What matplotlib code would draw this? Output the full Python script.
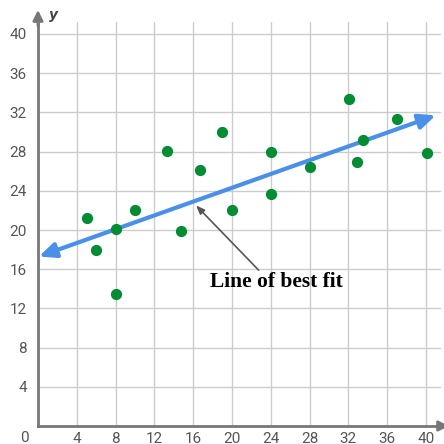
import matplotlib.pyplot as plt

# scatter data
xs = [5, 6, 8, 8, 10, 13.3, 14.7, 16.7, 19, 20, 24, 24, 28, 32.1, 32.9, 33.5, 37, 40.1]
ys = [21.2, 18, 20.1, 13.5, 22, 28.1, 19.9, 26.1, 30, 22, 28, 23.7, 26.4, 33.4, 26.9, 29.2, 31.3, 27.9]

# line of best fit end points
fit_x = [0.1, 41]
fit_y = [17.3, 31.7]

ticks = [4, 8, 12, 16, 20, 24, 28, 32, 36, 40]

W = 444
fig = plt.figure(figsize=(4.44, 4.44), dpi=100)
ax = fig.add_axes([38 / W, 18 / W, 403 / W, 404 / W])
ax.set_xlim(0, 403 / 9.7)
ax.set_ylim(0, 404 / 9.8)

for t in ticks:
    ax.axvline(t, color="#cccccc", lw=1, zorder=0)
    ax.axhline(t, color="#cccccc", lw=1, zorder=0)
ax.set_xticks(ticks)
ax.set_yticks(ticks)
ax.tick_params(length=0, colors="#555555", labelsize=11)
ax.tick_params(axis="x", pad=4)
ax.tick_params(axis="y", pad=8)
for lab in ax.get_xticklabels() + ax.get_yticklabels():
    lab.set_family("Roboto")
ax.text(-1.35, -1.25, "0", ha="center", va="center", color="#555555", fontsize=11, family="Roboto")

for side in ["top", "right"]:
    ax.spines[side].set_visible(False)
for side in ["left", "bottom"]:
    ax.spines[side].set_color("#777777")
    ax.spines[side].set_linewidth(2)

# axis arrows
ax.annotate("", xy=(0, 1 + 12 / 404), xytext=(0, 0.99), xycoords="axes fraction",
            arrowprops=dict(arrowstyle="-|>,head_width=0.3,head_length=0.6", color="#777777", lw=2,
                            shrinkA=0, shrinkB=0), annotation_clip=False)
ax.annotate("", xy=(1 + 8 / 403, 0), xytext=(0.99, 0), xycoords="axes fraction",
            arrowprops=dict(arrowstyle="-|>,head_width=0.3,head_length=0.6", color="#777777", lw=2,
                            shrinkA=0, shrinkB=0), annotation_clip=False)
ax.text(0.027, 1 + 7 / 404, "y", transform=ax.transAxes, fontsize=10, fontstyle="italic",
        fontweight="bold", color="#444444", ha="left", va="center", family="DejaVu Sans")

# best fit line with arrow heads
ax.annotate("", xy=(fit_x[1], fit_y[1]), xytext=(fit_x[0], fit_y[0]),
            arrowprops=dict(arrowstyle="<|-|>,head_width=0.45,head_length=1.0", color="#4a8fe8",
                            lw=3, shrinkA=0, shrinkB=0), annotation_clip=False, zorder=3)

ax.scatter(xs, ys, s=50, color="#038c33", zorder=4, clip_on=False)

ax.annotate("", xy=(16.3, 22.5), xytext=(22.75, 15.9),
            arrowprops=dict(arrowstyle="-|>,head_width=0.2,head_length=0.5", color="#555555", lw=1.2,
                            shrinkA=0, shrinkB=0), zorder=5)
ax.text(24.6, 14.7, "Line of best fit", ha="center", va="center", fontsize=15.5,
        fontweight="bold", family="Liberation Serif", color="black", zorder=5)

fig.savefig("out.png", dpi=100)
